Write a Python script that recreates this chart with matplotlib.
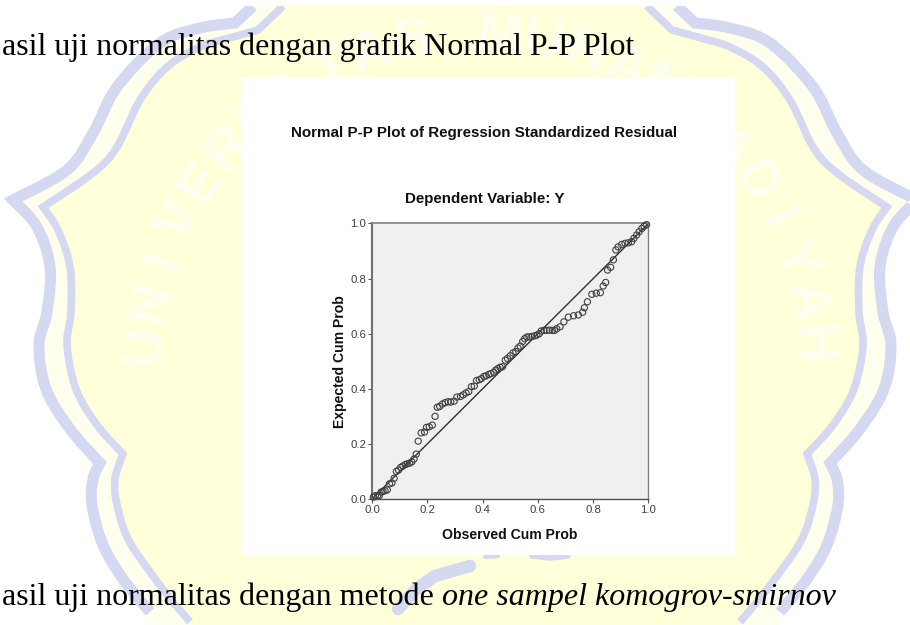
import numpy as np
import matplotlib
matplotlib.use('Agg')
import matplotlib.pyplot as plt
from matplotlib.patches import Polygon, Rectangle

observed = [0.005, 0.012, 0.020, 0.027, 0.033, 0.040, 0.047, 0.055, 0.063, 0.072, 0.080, 0.088, 0.096, 0.104, 0.112,
            0.120, 0.128, 0.136, 0.144, 0.152, 0.160, 0.167, 0.178, 0.190, 0.197, 0.207, 0.218, 0.228, 0.236, 0.245,
            0.255, 0.265, 0.275, 0.285, 0.297, 0.307, 0.320, 0.330, 0.340, 0.350, 0.360, 0.370, 0.378, 0.388, 0.396,
            0.405, 0.413, 0.422, 0.430, 0.440, 0.448, 0.455, 0.463, 0.472, 0.482, 0.490, 0.500, 0.510, 0.520, 0.528,
            0.536, 0.545, 0.552, 0.560, 0.568, 0.578, 0.588, 0.596, 0.605, 0.612, 0.622, 0.632, 0.642, 0.652, 0.660,
            0.668, 0.680, 0.694, 0.710, 0.729, 0.746, 0.762, 0.768, 0.779, 0.795, 0.811, 0.826, 0.836, 0.845, 0.852,
            0.863, 0.873, 0.882, 0.890, 0.903, 0.915, 0.927, 0.939, 0.947, 0.957, 0.966, 0.976, 0.984, 0.993]
expected = [0.007, 0.012, 0.012, 0.013, 0.025, 0.028, 0.030, 0.033, 0.055, 0.058, 0.075, 0.100, 0.105, 0.115, 0.120,
            0.125, 0.128, 0.130, 0.135, 0.145, 0.163, 0.210, 0.240, 0.243, 0.260, 0.262, 0.268, 0.300, 0.333, 0.336,
            0.345, 0.350, 0.353, 0.352, 0.355, 0.370, 0.372, 0.378, 0.385, 0.390, 0.408, 0.410, 0.430, 0.433, 0.437,
            0.445, 0.447, 0.452, 0.455, 0.460, 0.468, 0.473, 0.478, 0.480, 0.504, 0.510, 0.520, 0.530, 0.535, 0.548,
            0.555, 0.572, 0.582, 0.588, 0.588, 0.590, 0.592, 0.595, 0.600, 0.610, 0.612, 0.612, 0.613, 0.612, 0.612,
            0.618, 0.625, 0.643, 0.660, 0.665, 0.668, 0.678, 0.694, 0.716, 0.743, 0.747, 0.749, 0.773, 0.786, 0.831,
            0.841, 0.868, 0.904, 0.915, 0.924, 0.928, 0.930, 0.934, 0.946, 0.958, 0.970, 0.982, 0.990, 0.996]
ticks = [0.0, 0.2, 0.4, 0.6, 0.8, 1.0]
tick_labels = ['0.0', '0.2', '0.4', '0.6', '0.8', '1.0']

W, H = 910, 625
SANS = 'Liberation Sans'
SERIF = 'Liberation Serif'
BAND = '#D4D8F1'

# watermark outlines, left half, in image pixels (mirrored for the right half)
# each sublist is one smooth run, the joins between them stay sharp
MIRROR_X = 465
outer_left = [[(150, 612), (123, 579), (103, 545), (92, 505), (93, 479), (100, 463)],
              [(100, 463), (70, 429), (46, 389), (39, 345), (47, 312), (50, 267), (37, 227), (13, 200)],
              [(13, 200), (67, 170), (93, 133), (117, 87), (160, 43), (200, 28), (235, 23)],
              [(235, 23), (253, 6)]]
inner_left = [[(190, 622), (173, 602), (150, 572), (128, 539), (117, 505), (115, 479), (123, 454)],
              [(123, 454), (97, 425), (76, 389), (67, 345), (71, 312), (70, 267), (58, 230), (43, 207)],
              [(43, 207), (93, 173), (117, 147), (140, 100), (167, 67), (200, 47), (233, 37), (258, 30)],
              [(258, 30), (283, 6)]]
letters = 'UNIVERSITAS MUHAMMADIYAH'


def smooth(points, n=12):
    # catmull-rom through the hand-read outline
    p = np.array([points[0]] + list(points) + [points[-1]], dtype=float)
    out = []
    for i in range(1, len(p) - 2):
        for t in np.linspace(0, 1, n, endpoint=False):
            out.append(0.5 * (2 * p[i] + (p[i + 1] - p[i - 1]) * t
                              + (2 * p[i - 1] - 5 * p[i] + 4 * p[i + 1] - p[i + 2]) * t ** 2
                              + (3 * p[i] - p[i - 1] - 3 * p[i + 1] + p[i + 2]) * t ** 3))
    return out


def closed_shape(runs):
    a = []
    for run in runs:
        a += smooth(run)
    a.append(np.array(runs[-1][-1], dtype=float))
    a = np.array(a)
    b = a[::-1].copy()
    b[:, 0] = 2 * MIRROR_X - b[:, 0]
    return a, b


def draw_watermark(bg):
    bg.set_xlim(0, W)
    bg.set_ylim(H, 0)
    bg.axis('off')

    a, b = closed_shape(outer_left)
    bg.add_patch(Polygon(np.vstack([[(a[0][0], H + 5)], a, b, [(b[-1][0], H + 5)]]), fc='#FFFFEE', ec='none'))
    c, d = closed_shape(inner_left)
    bg.add_patch(Polygon(np.vstack([[(c[0][0], H + 5)], c, d, [(d[-1][0], H + 5)]]), fc='#FFFFDA', ec='none'))

    for part, lw in ((a, 8), (b, 8), (c, 5.5), (d, 5.5)):
        bg.plot(part[:, 0], part[:, 1], color=BAND, lw=lw, solid_capstyle='butt', solid_joinstyle='miter')

    # lower scallops showing under the panel
    for xs, ys, lw in (([398, 415, 435, 470], [609, 590, 576, 566], 9),
                       ([485, 498], [557, 556], 3),
                       ([532, 550, 568], [556, 558, 556], 4)):
        bg.plot(xs, ys, color=BAND, lw=lw, solid_capstyle='round')

    for i, ch in enumerate(letters):
        ang = np.radians(-85.7 + 7.45 * i)
        x = 478 + 334 * np.sin(ang)
        y = 370 - 334 * np.cos(ang)
        bg.text(x, y, ch, color='#FFFFFF', fontsize=40, fontweight='bold', family=SANS, ha='center', va='center',
                rotation=-np.degrees(ang), alpha=0.6)

    # white panel the chart sits on, clips the page
    bg.add_patch(Rectangle((241, 78), 494, 477, fc='white', ec='none', zorder=5))
    bg.add_patch(Rectangle((0, 0), W, 6, fc='white', ec='none', zorder=5))


def draw_body_text(fig):
    fig.text(2 / W, 1 - 54.5 / H, 'asil uji normalitas dengan grafik Normal P-P Plot', family=SERIF, fontsize=23,
             color='black', ha='left', va='baseline', zorder=10)
    first = fig.text(2 / W, 1 - 605.5 / H, 'asil uji normalitas dengan metode', family=SERIF, fontsize=23,
                     color='black', ha='left', va='baseline', zorder=10)
    fig.canvas.draw()
    end = first.get_window_extent().x1
    fig.text((end + 8) / W, 1 - 605.5 / H, 'one sampel komogrov-smirnov', family=SERIF, style='italic',
             fontsize=23, color='black', ha='left', va='baseline', zorder=10)


def draw_chart(fig):
    left, right, top, bottom = 372, 648.5, 223.5, 499
    ax = fig.add_axes([left / W, 1 - bottom / H, (right - left) / W, (bottom - top) / H], zorder=3)
    ax.set_facecolor('#F0F0F0')
    ax.set_xlim(0, 1)
    ax.set_ylim(0, 1)

    ax.plot([0, 1], [0, 1], color='#303030', lw=1.0, zorder=2)
    ax.scatter(observed, expected, s=20, facecolors='none', edgecolors='#404040', linewidths=0.8, zorder=3,
               clip_on=False)

    ax.set_xticks(ticks)
    ax.set_yticks(ticks)
    ax.set_xticklabels(tick_labels, family=SANS, fontsize=8.2, color='#404040')
    ax.set_yticklabels(tick_labels, family=SANS, fontsize=8.2, color='#404040')
    ax.tick_params(length=3.2, width=0.8, color='#505050', pad=1.2)

    ax.spines['left'].set_color('#707070')
    ax.spines['left'].set_linewidth(1.5)
    ax.spines['top'].set_color('#808080')
    ax.spines['top'].set_linewidth(1.2)
    ax.spines['right'].set_color('#808080')
    ax.spines['right'].set_linewidth(1.0)
    ax.spines['bottom'].set_color('#505050')
    ax.spines['bottom'].set_linewidth(1.0)

    fig.text(484.5 / W, 1 - 132.5 / H, 'Normal P-P Plot of Regression Standardized Residual', family=SANS,
             fontweight='bold', fontsize=10.9, color='#101010', ha='center', va='center', zorder=10)
    fig.text(484.5 / W, 1 - 199 / H, 'Dependent Variable: Y', family=SANS, fontweight='bold', fontsize=10.9,
             color='#101010', ha='center', va='center', zorder=10)
    fig.text(509.5 / W, 1 - 535 / H, 'Observed Cum Prob', family=SANS, fontweight='bold', fontsize=10.1,
             color='#101010', ha='center', va='center', zorder=10)
    fig.text(340 / W, 1 - 361.5 / H, 'Expected Cum Prob', family=SANS, fontweight='bold', fontsize=10.1,
             color='#101010', ha='center', va='center', rotation=90, zorder=10)


def main():
    fig = plt.figure(figsize=(W / 100, H / 100), dpi=100, facecolor='white')
    bg = fig.add_axes([0, 0, 1, 1], zorder=0)
    draw_watermark(bg)
    draw_chart(fig)
    draw_body_text(fig)
    fig.savefig('out.png', dpi=100)


if __name__ == "__main__":
    main()
